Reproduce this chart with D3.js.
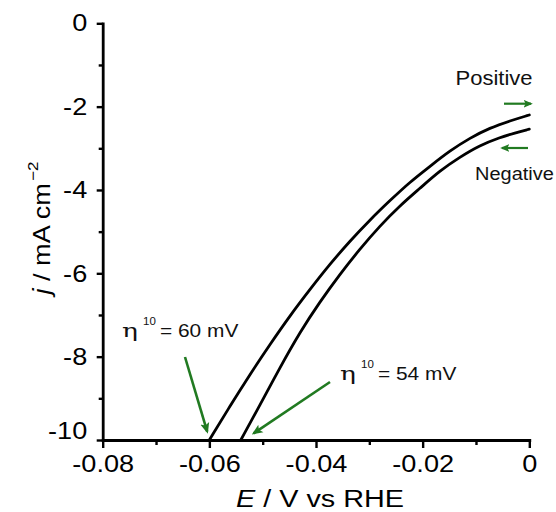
<!DOCTYPE html>
<html><head><meta charset="utf-8">
<script src="https://cdn.jsdelivr.net/npm/d3@7"></script>
<style>
html,body{margin:0;padding:0;background:#fff;}
svg{display:block;font-family:"Liberation Sans",Arial,Helvetica,sans-serif;}
</style></head><body>
<svg id="chart" width="556" height="512"></svg>
<script>
// Polarisation curves (current density vs potential), positive and negative scans
const positiveE = [-0.0600, -0.0561, -0.0524, -0.0486, -0.0449, -0.0411, -0.0374, -0.0336, -0.0299, -0.0261, -0.0224, -0.0186, -0.0149, -0.0111, -0.0074, -0.0036, 0];
const positiveJ = [-10, -9.18, -8.43, -7.70, -7.02, -6.38, -5.78, -5.22, -4.72, -4.25, -3.81, -3.43, -3.06, -2.75, -2.51, -2.34, -2.20];
const negativeE = [-0.0541, -0.0505, -0.0468, -0.0430, -0.0393, -0.0355, -0.0318, -0.0280, -0.0243, -0.0205, -0.0168, -0.0130, -0.0093, -0.0055, -0.0027, 0];
const negativeJ = [-10, -9.16, -8.27, -7.41, -6.69, -6.02, -5.42, -4.86, -4.38, -3.96, -3.54, -3.21, -2.93, -2.74, -2.63, -2.54];

const xTicks = [-0.08, -0.06, -0.04, -0.02, 0];
const xMinorTicks = [-0.07, -0.05, -0.03, -0.01];
const yTicks = [0, -2, -4, -6, -8, -10];
const yMinorTicks = [-1, -3, -5, -7, -9];

const scanNames = ["Positive", "Negative"];
const overpotentialMV = [60, 54];

const svg = d3.select("#chart");
const x = d3.scaleLinear().domain([-0.08, 0]).range([102.7, 529.3]);
const y = d3.scaleLinear().domain([-10, 0]).range([440, 23.3]);
const SX = 1.13;          // horizontal glyph stretch of the typeface
const green = "#217a21";

// arrowheads
const defs = svg.append("defs");
defs.append("marker").attr("id", "head").attr("viewBox", "0 0 10 10")
  .attr("refX", 8).attr("refY", 5).attr("markerWidth", 4.2).attr("markerHeight", 4.2)
  .attr("markerUnits", "strokeWidth").attr("orient", "auto")
  .append("path").attr("d", "M0,0.8 L10,5 L0,9.2 L2.2,5 Z").attr("fill", green);

function styleAxis(g, w) {
  g.attr("font-family", null).attr("font-size", 24).attr("fill", "#000");
  g.select(".domain").attr("stroke-width", w).attr("stroke-linecap", "square");
  g.selectAll(".tick line").attr("stroke-width", 2.4);
  g.selectAll(".tick text").attr("fill", "#000");
}

// x axis
const gx = svg.append("g").attr("transform", `translate(0,${y(-10)})`)
  .call(d3.axisBottom(x).tickValues(xTicks).tickSize(8).tickSizeOuter(0).tickPadding(7)
    .tickFormat(d => d === 0 ? "0" : d.toFixed(2)));
styleAxis(gx, 2.8);
gx.selectAll(".tick text").attr("transform", `scale(${SX},1)`);
svg.append("g").attr("transform", `translate(0,${y(-10)})`)
  .call(d3.axisBottom(x).tickValues(xMinorTicks).tickSize(5).tickFormat(""))
  .call(g => { g.select(".domain").remove(); g.selectAll("line").attr("stroke-width", 2.4); });

// y axis
const gy = svg.append("g").attr("transform", `translate(${x(-0.08)},0)`)
  .call(d3.axisLeft(y).tickValues(yTicks).tickSize(6).tickSizeOuter(0).tickPadding(9)
    .tickFormat(d => String(d)));
styleAxis(gy, 2.8);
gy.selectAll(".tick text")
  .attr("transform", `scale(${SX},1)`)
  .attr("x", -15.5 / SX)
  .attr("y", d => d === -10 ? -9 : 0);
svg.append("g").attr("transform", `translate(${x(-0.08)},0)`)
  .call(d3.axisLeft(y).tickValues(yMinorTicks).tickSize(4).tickFormat(""))
  .call(g => { g.select(".domain").remove(); g.selectAll("line").attr("stroke-width", 2.4); });

// axis titles
const xt = svg.append("g").attr("transform", `translate(320,507) scale(1.2,1)`)
  .append("text").attr("text-anchor", "middle").attr("font-size", 24);
xt.append("tspan").attr("font-style", "italic").text("E");
xt.append("tspan").text(" / V vs RHE");

const yt = svg.append("g").attr("transform", `translate(50,228) rotate(-90) scale(${SX},1)`)
  .append("text").attr("text-anchor", "middle").attr("font-size", 24);
yt.append("tspan").attr("font-style", "italic").text("j");
yt.append("tspan").text(" / mA cm");
yt.append("tspan").attr("font-size", 15).attr("dy", -12).attr("dx", 2).text("\u22122");

// curves
const line = d3.line().x(d => x(d[0])).y(d => y(d[1])).curve(d3.curveBasis);
const scans = [d3.zip(positiveE, positiveJ), d3.zip(negativeE, negativeJ)];
svg.append("g").selectAll("path").data(scans).join("path")
  .attr("d", line).attr("fill", "none").attr("stroke", "#000")
  .attr("stroke-width", 2.8).attr("stroke-linejoin", "round").attr("stroke-linecap", "round");

// scan direction labels and arrows
function stretched(px, py, str, size, anchor, sx) {
  return svg.append("g").attr("transform", `translate(${px},${py}) scale(${sx},1)`)
    .append("text").attr("text-anchor", anchor).attr("font-size", size).attr("fill", "#111").text(str);
}
stretched(494, 85, scanNames[0], 19.5, "middle", SX);
stretched(475, 180, scanNames[1], 18.5, "start", 1.08);

function arrow(x1, y1, x2, y2, w) {
  svg.append("line").attr("x1", x1).attr("y1", y1).attr("x2", x2).attr("y2", y2)
    .attr("stroke", green).attr("stroke-width", w).attr("marker-end", "url(#head)");
}
arrow(504, 103.7, 531, 103.7, 2.2);
arrow(528, 148, 502, 148, 2.2);

// overpotential at -10 mA cm-2
function etaLabel(px, py, mv) {
  svg.append("g").attr("transform", `translate(${px},${py}) scale(1.4,1)`)
    .append("text").attr("font-family", "'DejaVu Serif','Liberation Serif',serif")
    .attr("font-size", 19).attr("fill", "#111").text("\u03b7");
  svg.append("g").attr("transform", `translate(${px + 21},${py - 12})`)
    .append("text").attr("font-size", 11.5).attr("fill", "#111").text("10");
  svg.append("g").attr("transform", `translate(${px + 38},${py}) scale(${SX},1)`)
    .append("text").attr("font-size", 18.5).attr("fill", "#111").text(`= ${mv} mV`);
}
etaLabel(122, 336.7, overpotentialMV[0]);
etaLabel(340, 380, overpotentialMV[1]);

arrow(185, 357, x(-0.0604), y(-9.8), 2.6);
arrow(330, 382, x(-0.0517), y(-9.84), 2.6);
</script>
</body></html>
